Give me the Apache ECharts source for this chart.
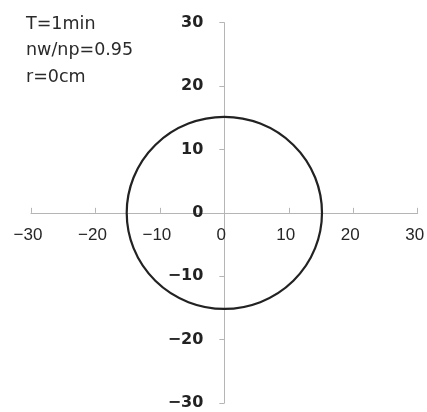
<!DOCTYPE html>
<html>
<head>
<meta charset="utf-8">
<script src="https://cdn.jsdelivr.net/npm/echarts@6/dist/echarts.min.js"></script>
<style>html,body{margin:0;padding:0;background:#fff}#c{width:427px;height:412px}</style>
</head>
<body>
<div id="c"></div>
<script>
// Data
var noteLines = ['T=1min', 'nw/np=0.95', 'r=0cm'];
var xTickValues = [-30, -20, -10, 0, 10, 20, 30];
var yTickValues = [-30, -20, -10, 0, 10, 20, 30];
var circleCenterX = [0];
var circleCenterY = [0];
var circleRadius = [15.15];
var axisMin = -30, axisMax = 30, axisStep = 10;

var chart = echarts.init(document.getElementById('c'), null, {renderer: 'canvas'});
var circleData = circleCenterX.map(function (x, i) { return [x, circleCenterY[i], circleRadius[i]]; });
function minusFmt(v) { return String(v).replace('-', '\u2212'); }

var option = {
  animation: false,
  backgroundColor: '#fff',
  grid: {left: 31, top: 22.7, width: 386.7, height: 380.3, containLabel: false, outerBoundsMode: 'none'},
  xAxis: {
    type: 'value', min: axisMin, max: axisMax, interval: axisStep,
    splitLine: {show: false},
    axisLine: {onZero: true, lineStyle: {color: '#b5b5b5', width: 1}},
    axisTick: {inside: true, length: 5, lineStyle: {color: '#b5b5b5'}},
    axisLabel: {show: false}
  },
  yAxis: {
    type: 'value', min: axisMin, max: axisMax, interval: axisStep,
    splitLine: {show: false},
    axisLine: {onZero: true, lineStyle: {color: '#b5b5b5', width: 1}},
    axisTick: {inside: false, length: 5, lineStyle: {color: '#b5b5b5'}},
    axisLabel: {show: false}
  },
  graphic: noteLines.map(function (t, i) {
    return {type: 'text', left: 26, top: 15 + i * 26.5, style: {text: t, font: '17.5px "DejaVu Sans"', fill: '#2a2a2a'}};
  }),
  series: [{
    type: 'custom',
    clip: false,
    silent: true,
    data: circleData,
    renderItem: function (params, api) {
      var c = api.coord([api.value(0), api.value(1)]);
      var s = api.size([api.value(2), api.value(2)]);
      return {
        type: 'circle',
        x: c[0], y: c[1],
        scaleY: s[1] / s[0],
        shape: {cx: 0, cy: 0, r: s[0]},
        style: {fill: null, stroke: '#222', lineWidth: 2.2, strokeNoScale: true}
      };
    }
  }, {
    type: 'custom',
    clip: false,
    silent: true,
    data: xTickValues.map(function (v) { return [v, 0]; }),
    renderItem: function (params, api) {
      var c = api.coord([api.value(0), api.value(1)]);
      return {
        type: 'text',
        x: c[0] - 3, y: c[1] + 14,
        style: {text: minusFmt(api.value(0)), font: '17px "Liberation Sans"', fill: '#262626',
                textAlign: 'center', textVerticalAlign: 'top', align: 'center', verticalAlign: 'top'}
      };
    }
  }, {
    type: 'custom',
    clip: false,
    silent: true,
    data: yTickValues.map(function (v) { return [0, v]; }),
    renderItem: function (params, api) {
      var c = api.coord([api.value(0), api.value(1)]);
      return {
        type: 'text',
        x: c[0] - 21, y: c[1],
        style: {text: minusFmt(api.value(1)), font: 'bold 16px "DejaVu Sans"', fill: '#222',
                textAlign: 'right', textVerticalAlign: 'middle', align: 'right', verticalAlign: 'middle'}
      };
    }
  }]
};
chart.setOption(option);
</script>
</body>
</html>
